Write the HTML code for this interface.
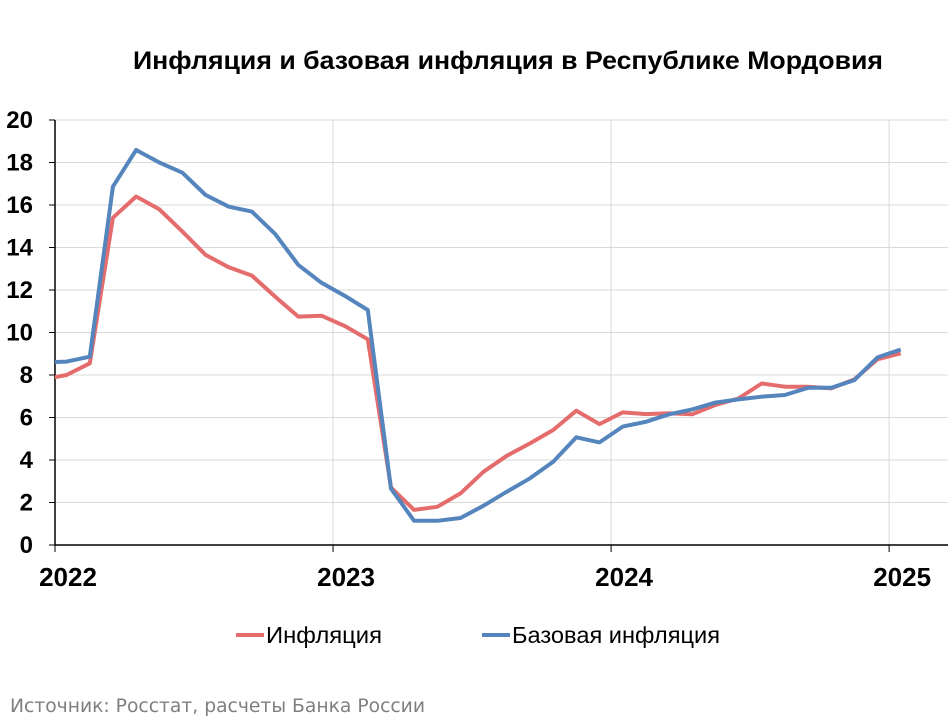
<!DOCTYPE html>
<html><head><meta charset="utf-8"><style>
body{margin:0;background:#fff;font-family:"Liberation Sans",sans-serif}
</style></head><body>
<svg width="950" height="720" xmlns="http://www.w3.org/2000/svg" style="display:block">
<defs><clipPath id="pc"><rect x="55" y="100" width="895" height="446"/></clipPath></defs>
<text x="133" y="69" font-size="25" font-weight="bold" textLength="750" lengthAdjust="spacingAndGlyphs">Инфляция и базовая инфляция в Республике Мордовия</text>
<g id="grid"></g><g id="axes"></g><g id="series" clip-path="url(#pc)"></g>
<g>
<line x1="236" y1="635" x2="264" y2="635" stroke="#e46c6c" stroke-width="4"/>
<text x="266" y="643" font-size="23" textLength="116" lengthAdjust="spacingAndGlyphs">Инфляция</text>
<line x1="482" y1="635" x2="510" y2="635" stroke="#5585bd" stroke-width="4"/>
<text x="512" y="643" font-size="23" textLength="208" lengthAdjust="spacingAndGlyphs">Базовая инфляция</text>
</g>
<text x="10" y="712" font-size="19" fill="#7f7f7f" font-family="DejaVu Sans, sans-serif" textLength="415" lengthAdjust="spacingAndGlyphs">Источник: Росстат, расчеты Банка России</text>
</svg>
<script>
const yTicks=[0,2,4,6,8,10,12,14,16,18,20];
const years=["2022","2023","2024","2025"];
const inflation=[7.8,8.0,8.55,15.4,16.4,15.8,14.75,13.65,13.07,12.68,11.69,10.75,10.79,10.31,9.68,2.7,1.65,1.8,2.43,3.45,4.2,4.78,5.41,6.32,5.69,6.24,6.16,6.2,6.15,6.59,6.9,7.6,7.45,7.45,7.37,7.8,8.74,9.02];
const core=[8.6,8.63,8.86,16.86,18.59,18.0,17.52,16.47,15.92,15.69,14.64,13.18,12.34,11.73,11.06,2.65,1.14,1.14,1.27,1.85,2.51,3.14,3.92,5.07,4.83,5.57,5.8,6.15,6.38,6.7,6.85,6.98,7.06,7.4,7.4,7.76,8.83,9.2];
const NS="http://www.w3.org/2000/svg";
const X0=55,MW=23.17,Y0=545,YU=21.25;
const xm=i=>X0+(i-0.5)*MW, y=v=>Y0-v*YU, xy=k=>X0+k*12*MW;
function mk(t,a,p){const e=document.createElementNS(NS,t);for(const k in a)e.setAttribute(k,a[k]);p.appendChild(e);return e;}
const g=document.getElementById('grid'),ax=document.getElementById('axes'),s=document.getElementById('series');
yTicks.forEach(v=>{if(v>0){const l=mk('line',{x1:X0,x2:948,y1:y(v),y2:y(v),stroke:'#d9d9d9','stroke-width':1},g);

}
const tk=mk('line',{x1:49,x2:X0,y1:y(v),y2:y(v),stroke:'#000'},ax);


const t=mk('text',{x:33,y:y(v)+8,'text-anchor':'end','font-size':24,'font-weight':'bold'},ax);t.textContent=v;

});
years.forEach((yr,k)=>{const x=xy(k);if(k>0){const l=mk('line',{x1:x,x2:x,y1:120,y2:Y0,stroke:'#d9d9d9'},g);

}
const tk=mk('line',{x1:x,x2:x,y1:Y0,y2:Y0+7,stroke:'#000'},ax);


const t=mk('text',{x:x+13,y:586,'text-anchor':'middle','font-size':26,'font-weight':'bold'},ax);t.textContent=yr;

});
const ya=mk('line',{x1:X0,x2:X0,y1:120,y2:Y0,stroke:'#000','stroke-width':1.5},ax);


const xa=mk('line',{x1:X0,x2:948,y1:Y0,y2:Y0,stroke:'#000','stroke-width':1.5},ax);


function line(d){return d.map((v,i)=>xm(i).toFixed(1)+','+y(v).toFixed(1)).join(' ');}
const p1=mk('polyline',{points:line(inflation),fill:'none',stroke:'#e46c6c','stroke-width':4,'stroke-linejoin':'round'},s);


const p2=mk('polyline',{points:line(core),fill:'none',stroke:'#5585bd','stroke-width':4,'stroke-linejoin':'round'},s);


</script>
</body></html>
